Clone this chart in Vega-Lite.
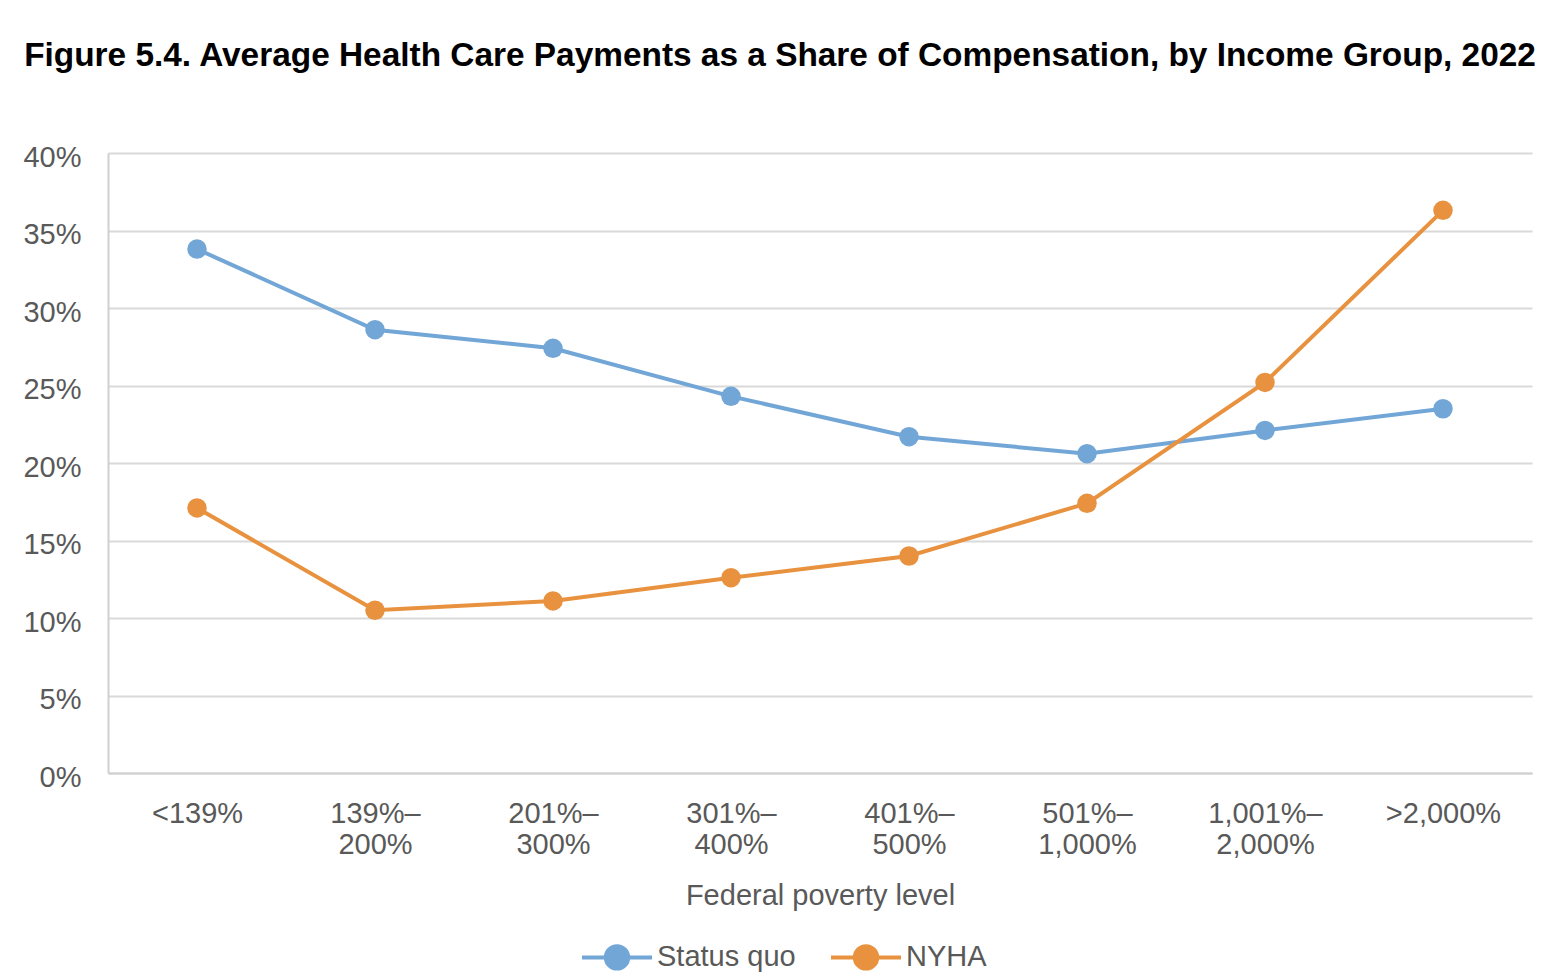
{
  "$schema": "https://vega.github.io/schema/vega-lite/v6.json",
  "width": 1424,
  "height": 620,
  "autosize": {"type": "none"},
  "padding": {"left": 108, "top": 153, "right": 26, "bottom": 207},
  "background": "white",
  "title": {
    "text": "Figure 5.4. Average Health Care Payments as a Share of Compensation, by Income Group, 2022",
    "font": "Liberation Sans",
    "fontSize": 33.4,
    "fontWeight": "bold",
    "color": "#000000",
    "anchor": "middle",
    "dx": -40,
    "offset": 70
  },
  "config": {
    "view": {"stroke": null},
    "font": "Liberation Sans"
  },
  "data": {
    "values": [
      {"fpl": "<139%", "series": "Status quo", "value": 0.338},
      {"fpl": "139%–|200%", "series": "Status quo", "value": 0.286},
      {"fpl": "201%–|300%", "series": "Status quo", "value": 0.274},
      {"fpl": "301%–|400%", "series": "Status quo", "value": 0.243},
      {"fpl": "401%–|500%", "series": "Status quo", "value": 0.217},
      {"fpl": "501%–|1,000%", "series": "Status quo", "value": 0.206},
      {"fpl": "1,001%–|2,000%", "series": "Status quo", "value": 0.221},
      {"fpl": ">2,000%", "series": "Status quo", "value": 0.235},
      {"fpl": "<139%", "series": "NYHA", "value": 0.171},
      {"fpl": "139%–|200%", "series": "NYHA", "value": 0.105},
      {"fpl": "201%–|300%", "series": "NYHA", "value": 0.111},
      {"fpl": "301%–|400%", "series": "NYHA", "value": 0.126},
      {"fpl": "401%–|500%", "series": "NYHA", "value": 0.140},
      {"fpl": "501%–|1,000%", "series": "NYHA", "value": 0.174},
      {"fpl": "1,001%–|2,000%", "series": "NYHA", "value": 0.252},
      {"fpl": ">2,000%", "series": "NYHA", "value": 0.363}
    ]
  },
  "encoding": {
    "x": {
      "field": "fpl",
      "type": "ordinal",
      "sort": ["<139%", "139%–|200%", "201%–|300%", "301%–|400%", "401%–|500%", "501%–|1,000%", "1,001%–|2,000%", ">2,000%"],
      "scale": {"type": "point", "padding": 0.5},
      "axis": {
        "title": "Federal poverty level",
        "titleFont": "Liberation Sans",
        "titleFontSize": 29,
        "titleFontWeight": "normal",
        "titleColor": "#595959",
        "titlePadding": 22,
        "labelExpr": "split(datum.label, '|')",
        "labelFont": "Liberation Sans",
        "labelFontSize": 29,
        "labelColor": "#595959",
        "labelAngle": 0,
        "labelLineHeight": 31,
        "labelPadding": 26,
        "ticks": false,
        "domainColor": "#d0d0d0",
        "domainWidth": 2,
        "grid": false
      }
    },
    "y": {
      "field": "value",
      "type": "quantitative",
      "scale": {"domain": [0, 0.4], "nice": false},
      "axis": {
        "title": null,
        "format": ".0%",
        "values": [0, 0.05, 0.1, 0.15, 0.2, 0.25, 0.3, 0.35, 0.4],
        "labelFont": "Liberation Sans",
        "labelFontSize": 29,
        "labelColor": "#595959",
        "labelPadding": 27,
        "labelOffset": 4,
        "ticks": false,
        "domainColor": "#d0d0d0",
        "domainWidth": 2,
        "grid": true,
        "gridColor": "#d9d9d9",
        "gridWidth": 2
      }
    },
    "color": {
      "field": "series",
      "type": "nominal",
      "scale": {"domain": ["Status quo", "NYHA"], "range": ["#72a6d6", "#e8923f"]},
      "legend": {
        "title": null,
        "orient": "none",
        "direction": "horizontal",
        "legendX": 472,
        "legendY": 767,
        "symbolType": "M-1,0L1,0M0.32,0A0.32,0.32,0,1,1,-0.32,0A0.32,0.32,0,1,1,0.32,0Z",
        "symbolSize": 4900,
        "symbolStrokeWidth": 4,
        "labelFont": "Liberation Sans",
        "labelFontSize": 29,
        "labelColor": "#595959",
        "labelOffset": 3,
        "columnPadding": 27
      }
    }
  },
  "layer": [
    {"mark": {"type": "line", "strokeWidth": 4}},
    {"mark": {"type": "point", "filled": true, "size": 380, "opacity": 1}}
  ]
}
